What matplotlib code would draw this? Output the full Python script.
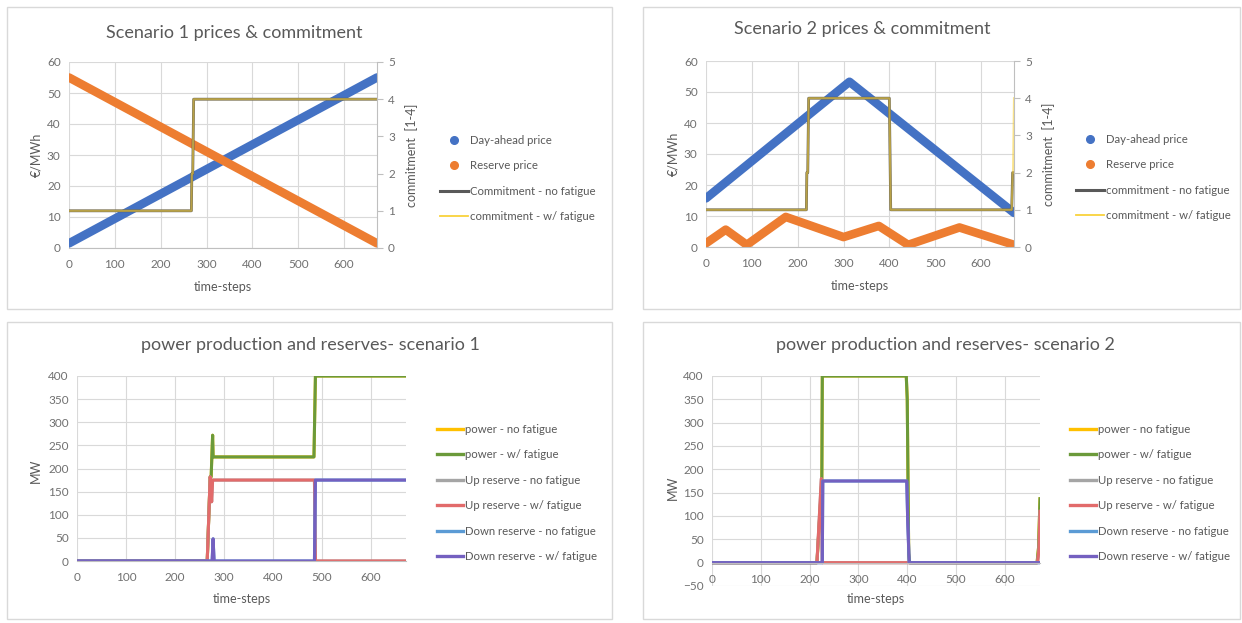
import matplotlib
matplotlib.use("Agg")
import matplotlib.pyplot as plt
from matplotlib.lines import Line2D
from matplotlib.patches import Rectangle

# ---------------------------------------------------------------------------
# Data (breakpoints of the hourly series)
# ---------------------------------------------------------------------------
T_MAX = 672
time_ticks = [0, 100, 200, 300, 400, 500, 600]

# scenario 1 prices (EUR/MWh)
s1_price_t = [0, 672]
s1_dayahead = [1.5, 55.0]
s1_reserve = [55.0, 1.5]
# scenario 1 commitment [1-4]
s1_commit_t = [0, 267, 268, 270, 272, 672]
s1_commit_nf = [1, 1, 2, 2, 4, 4]
s1_commit_wf = [1, 1, 2, 2, 4, 4]

# scenario 2 prices
s2_dayahead_t = [0, 313, 672]
s2_dayahead = [15.7, 53.3, 11.0]
s2_reserve_t = [0, 43, 89, 174, 300, 377, 441, 553, 670]
s2_reserve = [1.2, 5.6, 0.7, 9.7, 3.2, 6.8, 0.7, 6.3, 0.8]
# scenario 2 commitment
s2_commit_t = [0, 219, 220, 222, 224, 400, 401, 403, 667, 669, 670, 672]
s2_commit_nf = [1, 1, 2, 2, 4, 4, 3, 1, 1, 2, 2, 2]
s2_commit_wf = [1, 1, 2, 2, 4, 4, 3, 1, 1, 2, 2, 4]

# scenario 1 power and reserves (MW)
s1_power_t = [0, 266, 272, 274, 277, 278, 484, 487, 672]
s1_power_nf = [0, 0, 182, 182, 272, 225, 225, 400, 400]
s1_power_wf = [0, 0, 182, 182, 272, 225, 225, 400, 400]
s1_up_t = [0, 266, 272, 273, 275, 277, 485, 487, 672]
s1_up_nf = [0, 0, 182, 175, 128, 175, 175, 0, 0]
s1_up_wf = [0, 0, 182, 175, 128, 175, 175, 0, 0]
s1_down_t = [0, 276, 278, 280, 485, 487, 672]
s1_down_nf = [0, 0, 48, 0, 0, 175, 175]
s1_down_wf = [0, 0, 48, 0, 0, 175, 175]

# scenario 2 power and reserves (MW)
s2_power_t = [0, 215, 225, 226, 398, 400, 403, 405, 666, 669, 672]
s2_power_nf = [0, 0, 175, 400, 400, 350, 20, 0, 0, 32, 137]
s2_power_wf = [0, 0, 175, 400, 400, 350, 20, 0, 0, 32, 137]
s2_up_t = [0, 215, 224, 226, 667, 670, 672]
s2_up_nf = [0, 0, 180, 0, 0, 30, 110]
s2_up_wf = [0, 0, 180, 0, 0, 30, 110]
s2_down_t = [0, 226, 227, 399, 401, 404, 672]
s2_down_nf = [0, 0, 175, 175, 88, 0, 0]
s2_down_wf = [0, 0, 175, 175, 88, 0, 0]

# ---------------------------------------------------------------------------
# Style
# ---------------------------------------------------------------------------
W, H = 1242, 623
DPI = 100

BLUE = "#4472C4"
ORANGE = "#ED7D31"
DARK = "#595959"
YELLOW = "#F9D23C"
GOLD = "#FFC000"
GREEN = "#6B9A3A"
GREY = "#A5A5A5"
RED = "#E26B6B"
LBLUE = "#5B9BD5"
PURPLE = "#7460C0"
GRID = "#D9D9D9"
AXIS = "#BFBFBF"
TEXT = "#595959"
TICK = "#707070"
FRAME = "#D9D9D9"

plt.rcParams["font.family"] = ["Lato", "DejaVu Sans"]

TICK_FS = 8.5
LABEL_FS = 9
LEG_FS = 8.2
TITLE_FS = 13
DOT_LW = 6.2  # dense scatter markers form an ~8 px band


def px_axes(fig, x0, y0, x1, y1):
    return fig.add_axes([x0 / W, 1 - y1 / H, (x1 - x0) / W, (y1 - y0) / H])


def panel_frame(fig, x0, y0, x1, y1):
    fig.add_artist(Rectangle((x0 / W, 1 - y1 / H), (x1 - x0) / W, (y1 - y0) / H,
                             transform=fig.transFigure, fill=False,
                             edgecolor=FRAME, linewidth=1.0))


def style_axes(ax):
    ax.set_xlim(0, T_MAX)
    ax.set_xticks(time_ticks)
    ax.grid(True, color=GRID, linewidth=0.8)
    ax.set_axisbelow(True)
    for s in ["top", "right", "left"]:
        ax.spines[s].set_visible(False)
    ax.spines["bottom"].set_color(AXIS)
    ax.spines["bottom"].set_linewidth(0.8)
    ax.tick_params(length=0, labelsize=TICK_FS, colors=TICK)
    ax.tick_params(axis="x", pad=8)
    ax.tick_params(axis="y", pad=6)


def add_legend(ax, handles, labels, x, yc, hlen, tpad, spacing):
    ax.legend(handles, labels, loc="center left",
              bbox_to_anchor=(x / W, 1 - yc / H), bbox_transform=ax.figure.transFigure,
              frameon=False, fontsize=LEG_FS, labelcolor=TEXT,
              borderaxespad=0, borderpad=0, handlelength=hlen,
              handletextpad=tpad, labelspacing=spacing)


def price_panel(fig, box, title, title_xy, dah_t, dah, res_t, res, com_t, com_nf, com_wf,
                leg_x, leg_yc, commit_labels):
    ax = px_axes(fig, *box)
    style_axes(ax)
    ax.set_ylim(0, 60)
    ax.set_yticks(range(0, 61, 10))
    ax.plot(dah_t, dah, color=BLUE, lw=DOT_LW, solid_capstyle="round")
    ax.plot(res_t, res, color=ORANGE, lw=DOT_LW, solid_capstyle="round")
    ax.set_ylabel("€/MWh", fontsize=LABEL_FS, color=TEXT)
    ax.yaxis.set_label_coords(-0.088, 0.5)
    ax.set_xlabel("time-steps", fontsize=LABEL_FS, color=TEXT)
    ax.xaxis.set_label_coords(0.5, -0.175)

    ax2 = ax.twinx()
    ax2.set_xlim(0, T_MAX)
    ax2.set_ylim(0, 5)
    ax2.set_yticks(range(0, 6))
    for s in ["top", "left", "bottom"]:
        ax2.spines[s].set_visible(False)
    ax2.spines["right"].set_color(AXIS)
    ax2.spines["right"].set_linewidth(0.8)
    ax2.tick_params(axis="y", length=4, color=AXIS, labelsize=TICK_FS,
                    colors=TICK, pad=4)
    ax2.plot(com_t, com_nf, color=DARK, lw=2.0)
    ax2.plot(com_t, com_wf, color=YELLOW, lw=1.5, alpha=0.6)
    ax2.set_ylabel("commitment  [1-4]", fontsize=LABEL_FS, color=TEXT)
    ax2.yaxis.set_label_coords(1.09, 0.5)

    fig.text(title_xy[0] / W, 1 - title_xy[1] / H, title, fontsize=TITLE_FS,
             color=TEXT, ha="center", va="center")

    handles = [
        Line2D([], [], marker="o", ls="none", color=BLUE, markersize=5.5),
        Line2D([], [], marker="o", ls="none", color=ORANGE, markersize=5.5),
        Line2D([], [], color=DARK, lw=2.2),
        Line2D([], [], color=YELLOW, lw=1.3),
    ]
    labels = ["Day-ahead price", "Reserve price"] + commit_labels
    add_legend(ax2, handles, labels, leg_x, leg_yc, 2.5, 0.1, 1.25)
    return ax, ax2


def power_panel(fig, box, title, title_xy, ylim, series, leg_x, leg_yc, label_y, xlabel_y):
    ax = px_axes(fig, *box)
    style_axes(ax)
    ax.set_ylim(*ylim)
    ax.set_yticks(range(ylim[0], ylim[1] + 1, 50))
    if ylim[0] < 0:
        ax.spines["bottom"].set_position(("data", 0))
    for t, y, color in series:
        ax.plot(t, y, color=color, lw=2.2)
    ax.set_ylabel("MW", fontsize=LABEL_FS, color=TEXT)
    ax.yaxis.set_label_coords(label_y[0], label_y[1])
    ax.set_xlabel("time-steps", fontsize=LABEL_FS, color=TEXT)
    ax.xaxis.set_label_coords(0.5, xlabel_y)

    fig.text(title_xy[0] / W, 1 - title_xy[1] / H, title, fontsize=TITLE_FS,
             color=TEXT, ha="center", va="center")

    handles = [Line2D([], [], color=c, lw=2.4) for c in [GOLD, GREEN, GREY, RED, LBLUE, PURPLE]]
    labels = ["power - no fatigue", "power - w/ fatigue", "Up reserve - no fatigue",
              "Up reserve - w/ fatigue", "Down reserve - no fatigue", "Down reserve - w/ fatigue"]
    add_legend(ax, handles, labels, leg_x, leg_yc, 2.3, 0.15, 1.27)
    return ax


fig = plt.figure(figsize=(W / DPI, H / DPI), dpi=DPI)
fig.patch.set_facecolor("white")

panel_frame(fig, 7, 7, 612, 309)
panel_frame(fig, 643, 7, 1240, 309)
panel_frame(fig, 7, 322, 612, 619)
panel_frame(fig, 643, 322, 1240, 619)

price_panel(fig, (69, 62, 377, 248), "Scenario 1 prices & commitment", (234, 33),
            s1_price_t, s1_dayahead, s1_price_t, s1_reserve,
            s1_commit_t, s1_commit_nf, s1_commit_wf, 440, 178.5,
            ["Commitment - no fatigue", "commitment - w/ fatigue"])

price_panel(fig, (706, 61, 1014, 247), "Scenario 2 prices & commitment", (862, 29),
            s2_dayahead_t, s2_dayahead, s2_reserve_t, s2_reserve,
            s2_commit_t, s2_commit_nf, s2_commit_wf, 1076, 177.5,
            ["commitment - no fatigue", "commitment - w/ fatigue"])

power_panel(fig, (77, 376, 406, 561), "power production and reserves- scenario 1", (310, 345),
            (0, 400),
            [(s1_power_t, s1_power_nf, GOLD), (s1_power_t, s1_power_wf, GREEN),
             (s1_up_t, s1_up_nf, GREY), (s1_up_t, s1_up_wf, RED),
             (s1_down_t, s1_down_nf, LBLUE), (s1_down_t, s1_down_wf, PURPLE)],
            437, 493, (-0.106, 0.49), -0.175)

power_panel(fig, (712, 376, 1040, 586), "power production and reserves- scenario 2", (945, 345),
            (-50, 400),
            [(s2_power_t, s2_power_nf, GOLD), (s2_power_t, s2_power_wf, GREEN),
             (s2_up_t, s2_up_nf, GREY), (s2_up_t, s2_up_wf, RED),
             (s2_down_t, s2_down_nf, LBLUE), (s2_down_t, s2_down_wf, PURPLE)],
            1070, 493, (-0.10, 0.47), -0.035)

fig.savefig("out.png", dpi=DPI, facecolor="white")
